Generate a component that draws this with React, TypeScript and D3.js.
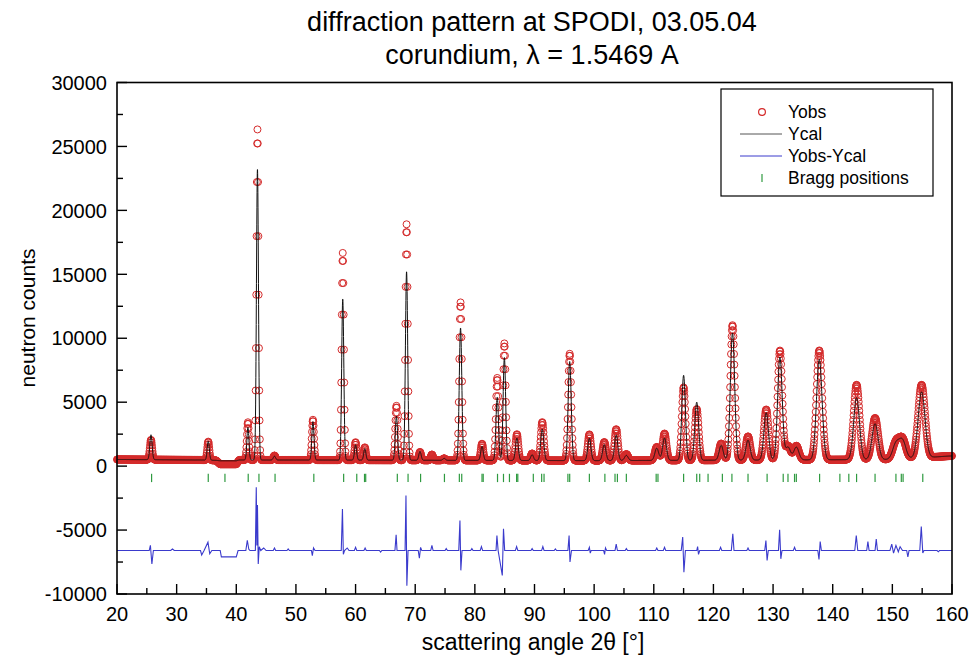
import React from "react";
import * as d3 from "d3";

const titleLines = ["diffraction pattern at SPODI, 03.05.04", "corundium, λ = 1.5469 A"];
const xLabel = "scattering angle 2θ [°]";
const yLabel = "neutron counts";
const xTicks = [20, 30, 40, 50, 60, 70, 80, 90, 100, 110, 120, 130, 140, 150, 160];
const yTicks = [-10000, -5000, 0, 5000, 10000, 15000, 20000, 25000, 30000];
const legendLabels = ["Yobs", "Ycal", "Yobs-Ycal", "Bragg positions"];

const peakAngles = [25.7, 35.3, 41.95, 43.55, 46.4, 52.85, 57.85, 60.0, 61.55, 66.85, 68.55, 70.8, 72.8, 74.85, 77.6, 81.2, 83.75, 84.95, 87.05, 89.6, 91.3, 95.9, 99.2, 101.7, 103.7, 105.4, 110.5, 111.8, 115.0, 117.2, 121.3, 123.2, 125.8, 128.85, 131.15, 132.5, 133.9, 137.75, 144.0, 147.1, 150.6, 151.7, 154.9];
const peakObsHeights = [1550, 1450, 2950, 25850, 350, 3150, 16200, 1400, 1000, 4250, 18450, 650, 450, 150, 12350, 1300, 6450, 9150, 2050, 550, 3000, 8350, 2050, 1450, 2450, 500, 1050, 2100, 5700, 4000, 1300, 10550, 1850, 3950, 8550, 1100, 1100, 8550, 5850, 3250, 1300, 1500, 5700];
const peakCalcHeights = [1950, 1500, 2550, 22750, 300, 3000, 12600, 1200, 900, 3450, 14750, 700, 0, 150, 10350, 1100, 4950, 8050, 1750, 450, 2450, 7750, 1750, 1250, 2000, 400, 950, 1750, 6650, 4550, 1150, 9950, 1550, 3700, 8050, 1000, 1000, 7850, 4850, 2800, 1200, 1400, 5150];
const peakWidths = [0.45, 0.42, 0.4, 0.4, 0.45, 0.42, 0.42, 0.42, 0.42, 0.45, 0.45, 0.45, 0.45, 0.5, 0.5, 0.5, 0.5, 0.5, 0.55, 0.55, 0.6, 0.6, 0.62, 0.65, 0.65, 0.7, 0.75, 0.75, 0.7, 0.75, 0.8, 0.85, 0.85, 0.9, 0.9, 1.0, 1.0, 1.1, 1.15, 1.2, 1.3, 1.3, 1.35];

const backgroundAngles = [20, 34, 36.6, 37.3, 40.0, 40.5, 60, 100, 130, 150, 156.5, 160];
const backgroundObs = [520, 480, 450, 150, 150, 480, 470, 430, 480, 520, 700, 800];
const backgroundCalc = [520, 480, 450, 420, 420, 480, 470, 430, 480, 520, 700, 800];

const braggPositions = [25.8, 35.3, 38.1, 42.0, 43.8, 46.5, 53.0, 58.0, 60.2, 61.5, 61.7, 67.0, 68.8, 70.9, 74.9, 77.4, 77.8, 81.2, 81.4, 83.8, 84.8, 85.8, 87.0, 87.2, 89.8, 91.2, 91.6, 95.6, 95.9, 99.2, 101.8, 103.5, 103.9, 105.4, 110.4, 110.7, 115.0, 117.2, 117.7, 119.1, 121.5, 123.1, 125.8, 129.0, 131.7, 132.5, 133.6, 133.9, 137.8, 141.2, 142.7, 144.0, 147.1, 150.6, 151.5, 151.8, 155.1];

const diffOffset = -6600;
const diffAngles = [20, 25.4, 25.6, 25.85, 26.1, 29.0, 29.3, 29.6, 34.0, 34.2, 34.6, 35.25, 35.55, 35.9, 37.3, 37.5, 40.0, 40.3, 41.6, 41.85, 42.1, 42.3, 43.2, 43.35, 43.45, 43.55, 43.68, 43.85, 44.1, 44.6, 45.0, 46.2, 46.4, 46.6, 48.5, 48.7, 48.9, 52.6, 52.75, 52.95, 53.2, 57.6, 57.8, 57.95, 58.15, 58.6, 58.9, 59.8, 60.0, 60.2, 61.4, 61.6, 61.8, 64.0, 64.2, 64.4, 66.6, 66.8, 66.95, 68.3, 68.45, 68.6, 68.8, 70.5, 70.7, 70.9, 71.1, 72.6, 72.8, 73.0, 75.0, 75.2, 75.4, 77.3, 77.5, 77.65, 77.85, 79.3, 79.5, 79.7, 80.9, 81.1, 81.3, 83.55, 83.7, 83.9, 84.6, 84.8, 85.0, 86.8, 87.0, 87.2, 89.4, 89.6, 89.8, 91.2, 91.4, 91.6, 93.3, 93.5, 93.7, 95.6, 95.8, 95.95, 96.2, 99.0, 99.2, 99.35, 99.5, 101.6, 101.75, 101.9, 102.1, 103.5, 103.7, 103.9, 105.2, 105.4, 105.6, 110.3, 110.5, 110.7, 111.6, 111.8, 112.0, 114.6, 114.85, 115.05, 115.3, 117.2, 117.35, 117.5, 117.7, 121.0, 121.2, 121.4, 123.0, 123.25, 123.45, 125.6, 125.8, 126.0, 128.6, 128.8, 129.0, 129.2, 130.9, 131.1, 131.3, 131.5, 133.4, 133.6, 133.8, 137.5, 137.7, 137.9, 138.1, 143.7, 143.95, 144.2, 145.7, 145.9, 146.1, 147.1, 147.3, 147.5, 149.6, 149.9, 150.2, 150.6, 151.0, 151.3, 151.7, 152.4, 152.6, 152.8, 154.6, 154.85, 155.1, 155.3, 157.5, 157.7, 157.9, 160];
const diffValues = [0, 0, 400, -1050, 0, 0, 120, 0, 0, -350, 0, 650, -250, 0, 0, -500, -500, 0, 0, 800, 100, 0, 0, 4950, 400, 3550, -1050, 300, 0, 200, 0, 0, 200, 0, 0, 120, 0, 0, -400, 200, 0, 0, 3250, -300, 0, 200, 0, 0, 250, 0, 0, 200, 0, 0, -120, 0, 0, 1230, 0, 0, 4300, -2750, 0, 0, -600, 250, 0, 0, 400, 0, 0, 150, 0, 0, 2350, -1550, 0, 0, 150, 0, 0, 300, 0, 0, 1170, 0, -1950, 1700, 0, 0, 300, 0, 0, 150, 0, 0, 300, 0, 0, 130, 0, 0, 1170, -900, 0, 0, 250, -200, 0, 0, -300, 200, 0, 0, 500, 0, 0, 150, 0, 0, 200, 0, 0, 250, 0, 0, 1050, -1700, 0, 0, 300, -300, 0, 0, 250, 0, 0, 1300, 0, 0, 200, 0, 0, 780, -780, 0, 0, 1620, -650, 0, 0, 250, 0, 0, -700, 700, 0, 0, 1170, 0, 0, 700, 0, 0, 900, 0, 0, 500, -200, 400, -100, 300, 0, 0, -500, 0, 0, 1880, -200, 0, 0, -100, 0, 0];

const FONT = "'Liberation Sans', Arial, Helvetica, sans-serif";

function profile(a: number, heights: number[]) {
  let s = 0;
  for (let i = 0; i < peakAngles.length; i++) {
    const d = a - peakAngles[i];
    const w = peakWidths[i];
    if (Math.abs(d) > 4 * w) continue;
    s += heights[i] * Math.exp((-4 * Math.LN2 * d * d) / (w * w));
  }
  return s;
}

export default function App() {
  const W = 978, H = 663;
  const left = 117, right = 952, top = 82.5, bottom = 594;
  const x = d3.scaleLinear().domain([20, 160]).range([left, right]);
  const y = d3.scaleLinear().domain([-10000, 30000]).range([bottom, top]);
  const bgObs = d3.scaleLinear().domain(backgroundAngles).range(backgroundObs);
  const bgCalc = d3.scaleLinear().domain(backgroundAngles).range(backgroundCalc);

  const obsAngles = d3.range(0, 2801).map((i) => 20 + i * 0.05);
  const obs = obsAngles.map((a) => [a, bgObs(a) + profile(a, peakObsHeights)]);
  const calcAngles = d3.range(0, 7001).map((i) => 20 + i * 0.02);
  const calc = calcAngles.map((a) => [a, bgCalc(a) + profile(a, peakCalcHeights)]);
  const diff = diffAngles.map((a, i) => [a, diffValues[i] + diffOffset]);

  const line = d3.line<number[]>().x((d) => x(d[0])).y((d) => y(d[1]));

  const minorX = d3.range(25, 160, 10);
  const minorY = d3.range(-7500, 30000, 5000);

  const red = "#d42a2a";
  const blue = "#3a3acc";
  const green = "#2f9a40";

  const lx = 721, ly = 89, lw = 212, lh = 107;
  const rowY = [112, 134, 156, 178];

  return (
    <svg width={W} height={H} style={{ position: "absolute", left: 0, top: 0, background: "#fff" }} fontFamily={FONT}>
      <rect x={0} y={0} width={W} height={H} fill="#fff" />
      <text x={532} y={31} textAnchor="middle" fontSize={27}>{titleLines[0]}</text>
      <text x={532} y={64} textAnchor="middle" fontSize={27}>{titleLines[1]}</text>

      <g>
        {obs.map((d, i) => (
          <circle key={i} cx={x(d[0])} cy={y(d[1])} r={3.5} fill="none" stroke={red} strokeWidth={1} />
        ))}
      </g>
      <path d={line(calc) || ""} fill="none" stroke="#111" strokeWidth={1} />
      <path d={line(diff) || ""} fill="none" stroke={blue} strokeWidth={1.1} />
      <g stroke={green} strokeWidth={1.2}>
        {braggPositions.map((b, i) => (
          <line key={i} x1={x(b)} x2={x(b)} y1={y(-600)} y2={y(-1250)} />
        ))}
      </g>

      <rect x={left} y={top} width={right - left} height={bottom - top} fill="none" stroke="#000" strokeWidth={1.6} />
      <g stroke="#000" strokeWidth={1.4}>
        {xTicks.map((t) => (
          <line key={"xt" + t} x1={x(t)} x2={x(t)} y1={bottom} y2={bottom - 10} />
        ))}
        {minorX.map((t) => (
          <line key={"xm" + t} x1={x(t)} x2={x(t)} y1={bottom} y2={bottom - 6} />
        ))}
        {yTicks.map((t) => (
          <line key={"yt" + t} x1={left} x2={left + 10} y1={y(t)} y2={y(t)} />
        ))}
        {minorY.map((t) => (
          <line key={"ym" + t} x1={left} x2={left + 6} y1={y(t)} y2={y(t)} />
        ))}
      </g>
      <g fontSize={20} fill="#000">
        {xTicks.map((t) => (
          <text key={"xl" + t} x={x(t)} y={621} textAnchor="middle">{t}</text>
        ))}
        {yTicks.map((t) => (
          <text key={"yl" + t} x={107} y={y(t)} dy="0.36em" textAnchor="end">{t}</text>
        ))}
      </g>
      <text x={533} y={650} textAnchor="middle" fontSize={23}>{xLabel}</text>
      <text transform={`translate(35,${318}) rotate(-90)`} textAnchor="middle" fontSize={21}>{yLabel}</text>

      <g>
        <rect x={lx} y={ly} width={lw} height={lh} fill="#fff" stroke="#000" strokeWidth={1.2} />
        <circle cx={762} cy={rowY[0]} r={3.4} fill="none" stroke={red} strokeWidth={1.2} />
        <line x1={740} x2={782} y1={rowY[1]} y2={rowY[1]} stroke="#555" strokeWidth={1} />
        <line x1={740} x2={782} y1={rowY[2]} y2={rowY[2]} stroke={blue} strokeWidth={1} />
        <line x1={762} x2={762} y1={rowY[3] - 4} y2={rowY[3] + 4} stroke={green} strokeWidth={1.2} />
        {legendLabels.map((l, i) => (
          <text key={l} x={788} y={rowY[i]} dy="0.36em" fontSize={17.5}>{l}</text>
        ))}
      </g>
    </svg>
  );
}
